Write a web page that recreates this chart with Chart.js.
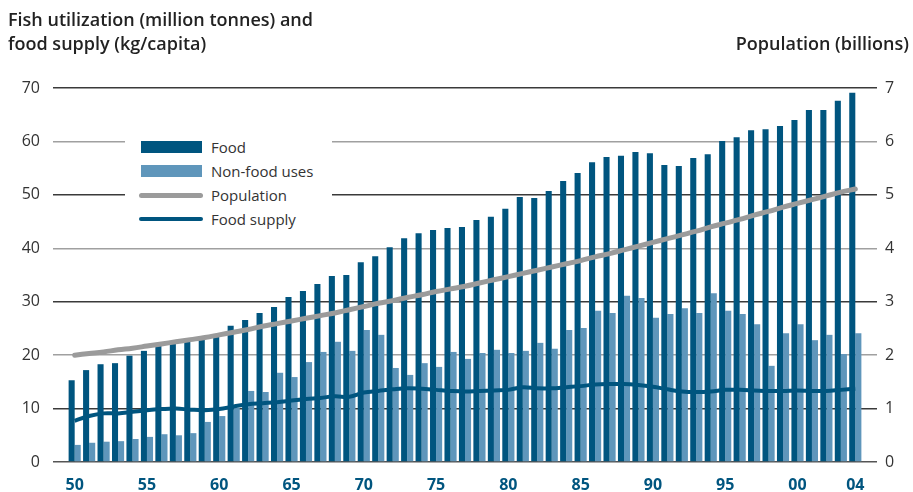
<!DOCTYPE html>
<html>
<head>
<meta charset="utf-8">
<script src="https://cdn.jsdelivr.net/npm/chart.js@4.4.0/dist/chart.umd.min.js"></script>
<style>
    html, body { margin: 0; padding: 0; background: #fff; }
    #wrap { position: relative; width: 913px; height: 492px; font-family: 'Open Sans', sans-serif; }
    #chart { position: absolute; left: 0; top: 0; }
    .title { position: absolute; font-weight: 600; font-size: 18px; color: #222; line-height: 24px; }
    #legend { position: absolute; left: 125px; top: 129px; width: 207px; height: 102px; background: #fff; }
    .item { position: absolute; left: 86px; font-size: 15px; color: #333; line-height: 20px; }
    .sw { position: absolute; }
</style>
</head>
<body>
<div id="wrap">
    <canvas id="chart" width="913" height="492"></canvas>
    <div class="title" style="left:8px; top:7px;">Fish utilization (million tonnes) and<br>food supply (kg/capita)</div>
    <div class="title" style="right:4px; top:31px;">Population (billions)</div>
    <div id="legend"></div>
</div>
<script>
    'use strict';

    const FOOD_COLOR = '#00557f';
    const NONFOOD_COLOR = '#5f96bb';
    const POP_COLOR = '#9b9b9b';

    const years = [
        1950, 1951, 1952, 1953, 1954, 1955, 1956, 1957, 1958, 1959,
        1960, 1961, 1962, 1963, 1964, 1965, 1966, 1967, 1968, 1969,
        1970, 1971, 1972, 1973, 1974, 1975, 1976, 1977, 1978, 1979,
        1980, 1981, 1982, 1983, 1984, 1985, 1986, 1987, 1988, 1989,
        1990, 1991, 1992, 1993, 1994, 1995, 1996, 1997, 1998, 1999,
        2000, 2001, 2002, 2003, 2004
    ];

    // million tonnes
    const food = [
        15.3, 17.2, 18.3, 18.5, 19.9, 20.8, 21.8, 22.3, 22.7, 23.3,
        23.6, 25.5, 26.6, 27.9, 29.0, 30.9, 32.0, 33.3, 34.8, 35.0,
        37.4, 38.5, 40.2, 41.9, 42.8, 43.4, 43.8, 44.0, 45.3, 45.9,
        47.4, 49.6, 49.4, 50.7, 52.6, 54.1, 56.1, 57.1, 57.3, 58.0,
        57.8, 55.6, 55.4, 56.9, 57.6, 60.1, 60.8, 62.1, 62.3, 62.9,
        64.0, 65.9, 65.9, 67.6, 69.1
    ];

    const nonFood = [
        3.2, 3.6, 3.8, 3.9, 4.3, 4.7, 5.2, 5.0, 5.4, 7.5,
        8.6, 10.1, 13.3, 13.1, 16.7, 15.9, 18.7, 20.6, 22.5, 20.8,
        24.7, 23.8, 17.6, 16.3, 18.5, 17.8, 20.6, 19.3, 20.4, 21.0,
        20.4, 20.8, 22.3, 21.2, 24.7, 25.1, 28.3, 27.9, 31.1, 30.7,
        27.0, 27.7, 28.8, 27.9, 31.6, 28.3, 27.7, 25.8, 18.0, 24.1,
        25.8, 22.8, 23.8, 20.2, 24.1
    ];

    // billions (right axis)
    const population = [
        2.00, 2.03, 2.06, 2.10, 2.13, 2.17, 2.21, 2.25, 2.29, 2.33,
        2.38, 2.43, 2.48, 2.54, 2.59, 2.64, 2.69, 2.74, 2.79, 2.85,
        2.91, 2.97, 3.02, 3.08, 3.13, 3.19, 3.24, 3.29, 3.35, 3.41,
        3.47, 3.53, 3.59, 3.65, 3.71, 3.77, 3.84, 3.90, 3.97, 4.04,
        4.11, 4.18, 4.25, 4.32, 4.40, 4.47, 4.54, 4.62, 4.69, 4.77,
        4.84, 4.91, 4.98, 5.05, 5.11
    ];

    // kg/capita (left axis)
    const foodSupply = [
        7.7, 8.6, 9.1, 9.1, 9.4, 9.7, 9.9, 10.0, 9.8, 9.7,
        9.9, 10.4, 10.8, 11.0, 11.2, 11.5, 11.8, 12.0, 12.3, 12.2,
        13.0, 13.3, 13.6, 13.8, 13.7, 13.5, 13.3, 13.2, 13.3, 13.4,
        13.5, 14.0, 13.8, 13.8, 14.0, 14.2, 14.5, 14.6, 14.6, 14.4,
        14.1, 13.6, 13.2, 13.1, 13.2, 13.5, 13.5, 13.4, 13.3, 13.3,
        13.4, 13.3, 13.3, 13.5, 13.7
    ];

    const leftTicks = [0, 10, 20, 30, 40, 50, 60, 70];
    const rightTicks = [0, 1, 2, 3, 4, 5, 6, 7];

    const legendItems = [
        { label: 'Food', type: 'box', color: FOOD_COLOR },
        { label: 'Non-food uses', type: 'box', color: NONFOOD_COLOR },
        { label: 'Population', type: 'line', color: POP_COLOR, width: 5 },
        { label: 'Food supply', type: 'line', color: FOOD_COLOR, width: 4 },
    ];

    // one empty slot at each end so the bars sit in from the gridline ends
    function pad(arr, blank) {
        return [blank].concat(arr, [blank]);
    }

    const labels = pad(years, '');

    function yearLabel(year) {
        if (year === '' || (year % 5 !== 0 && year !== 2004)) {
            return '';
        }
        return String(year).slice(2);
    }

    function gridColor(ctx) {
        const v = ctx.tick ? ctx.tick.value : 0;
        if (v === 0) {
            return '#555';
        }
        return (v % 20 === 0) ? '#a0a0a0' : '#3a3a3a';
    }

    new Chart(document.getElementById('chart'), {
        type: 'bar',
        data: {
            labels: labels,
            datasets: [
                {
                    type: 'line',
                    label: 'Population',
                    data: pad(population, null),
                    yAxisID: 'y2',
                    borderColor: POP_COLOR,
                    borderWidth: 5,
                    pointRadius: 0,
                    tension: 0.4,
                    borderCapStyle: 'round',
                    order: 0,
                },
                {
                    type: 'line',
                    label: 'Food supply',
                    data: pad(foodSupply, null),
                    yAxisID: 'y',
                    borderColor: FOOD_COLOR,
                    borderWidth: 4,
                    pointRadius: 0,
                    tension: 0.4,
                    order: 0,
                },
                {
                    label: 'Food',
                    data: pad(food, null),
                    yAxisID: 'y',
                    backgroundColor: FOOD_COLOR,
                    categoryPercentage: 0.84,
                    barPercentage: 1.0,
                    order: 1,
                },
                {
                    label: 'Non-food uses',
                    data: pad(nonFood, null),
                    yAxisID: 'y',
                    backgroundColor: NONFOOD_COLOR,
                    categoryPercentage: 0.84,
                    barPercentage: 1.0,
                    order: 1,
                },
            ],
        },
        options: {
            responsive: false,
            animation: false,
            layout: { padding: { left: 0, right: 0, top: 88, bottom: 0 } },
            plugins: {
                legend: { display: false },
                tooltip: { enabled: false },
                title: { display: false },
            },
            scales: {
                x: {
                    offset: true,
                    grid: { display: false, drawTicks: false },
                    border: { display: false },
                    afterFit: function (scale) { scale.height = 30; },
                    ticks: {
                        autoSkip: false,
                        maxRotation: 0,
                        padding: 14,
                        color: FOOD_COLOR,
                        font: { family: 'Open Sans', size: 16, weight: 'bold' },
                        callback: function (value, index) {
                            return yearLabel(labels[index]);
                        },
                    },
                },
                y: {
                    position: 'left',
                    min: leftTicks[0],
                    max: leftTicks[leftTicks.length - 1],
                    afterBuildTicks: function (scale) {
                        scale.ticks = leftTicks.map(function (v) { return { value: v }; });
                    },
                    afterFit: function (scale) { scale.width = 53; },
                    border: { display: false },
                    grid: { color: gridColor, lineWidth: 1.5, drawTicks: false },
                    ticks: {
                        padding: 13,
                        color: '#333',
                        font: { family: 'Open Sans', size: 16 },
                    },
                },
                y2: {
                    position: 'right',
                    min: rightTicks[0],
                    max: rightTicks[rightTicks.length - 1],
                    afterBuildTicks: function (scale) {
                        scale.ticks = rightTicks.map(function (v) { return { value: v }; });
                    },
                    afterFit: function (scale) { scale.width = 36; },
                    border: { display: false },
                    grid: { display: false, drawTicks: false },
                    ticks: {
                        padding: 8,
                        color: '#333',
                        font: { family: 'Open Sans', size: 16 },
                    },
                },
            },
        },
    });

    const legendEl = document.getElementById('legend');
    legendEl.innerHTML = legendItems.map(function (item, i) {
        const top = 12 + i * 24;
        let sw;
        if (item.type === 'box') {
            sw = '<div class="sw" style="left:16px;top:' + top + 'px;width:61px;height:12px;background:' + item.color + '"></div>';
        } else {
            sw = '<div class="sw" style="left:14px;top:' + (top + 6 - item.width / 2) + 'px;width:64px;height:' + item.width + 'px;border-radius:3px;background:' + item.color + '"></div>';
        }
        return sw + '<div class="item" style="top:' + (top - 4) + 'px">' + item.label + '</div>';
    }).join('');
</script>
</body>
</html>
